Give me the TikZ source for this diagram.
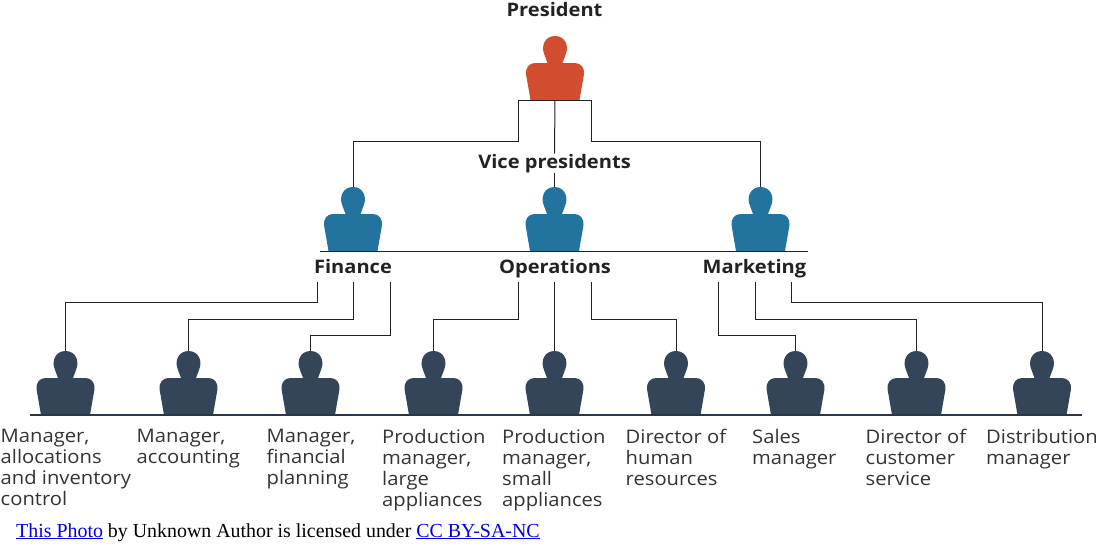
\documentclass[tikz,border=0pt]{standalone}
\usepackage{fontspec}
\setmainfont[FakeStretch=1.08]{Open Sans}
\newfontfamily\footfont{Liberation Serif}
\usepackage{tikz}
\usetikzlibrary{positioning}
\definecolor{chiefred}{RGB}{210,77,48}
\definecolor{vpblue}{RGB}{35,115,159}
\definecolor{staffnavy}{RGB}{52,69,89}
\definecolor{linkgray}{RGB}{34,34,34}
\definecolor{textgray}{RGB}{51,51,51}
\definecolor{linkblue}{RGB}{0,0,238}

\tikzset{
  person/.pic={
    \fill[pic actions] (-24.5,0) -- (-29,-26) .. controls (-29.6,-32) and (-26,-37) .. (-20,-37) -- (-7.5,-37)
      -- (-10.5,-45) .. controls (-14.5,-54) and (-10,-64) .. (0,-64)
      .. controls (10,-64) and (14.5,-54) .. (10.5,-45) -- (7.5,-37) -- (20,-37)
      .. controls (26,-37) and (29.6,-32) .. (29,-26) -- (24.5,0) -- cycle;
    \coordinate (-top) at (0,-64);
    \coordinate (-base) at (0,0);
  }
}

\begin{document}
\begin{tikzpicture}[
  x=1pt, y=-1pt,
  link/.style={draw=linkgray, line width=1pt},
  floor/.style={draw=staffnavy!80!black, line width=1.2pt},
  head/.style={anchor=base, font=\bfseries\fontsize{18.6}{21}\selectfont, text=linkgray, inner sep=0pt},
  role/.style={anchor=north west, align=left, inner sep=0pt, font=\fontsize{18.7}{21}\selectfont, text=textgray, execute at begin node=\strut},
  foot/.style={anchor=base west, inner sep=0pt, font=\footfont\fontsize{19.9}{24}\selectfont}
]
\useasboundingbox (0,0) rectangle (1100,555);

% top of the chart
\pic[fill=chiefred] (pres) at (555,100) {person};
\node[head] (preslab) at (554.5,16) {President};

\pic[fill=vpblue] (fin) at (353,251) {person};
\pic[fill=vpblue] (ops) at (554.5,251) {person};
\pic[fill=vpblue] (mkt) at (760.5,251) {person};
\node[head] (vplab) at (554.5,168) {Vice presidents};
\node[head] (finlab) at (353,273) {Finance};
\node[head] (opslab) at (555,273) {Operations};
\node[head] (mktlab) at (754.5,273) {Marketing};

% bottom row
\pic[fill=staffnavy] (alloc) at (65.5,415) {person};
\pic[fill=staffnavy] (acct) at (188.5,415) {person};
\pic[fill=staffnavy] (plan) at (310.5,415) {person};
\pic[fill=staffnavy] (large) at (433.5,415) {person};
\pic[fill=staffnavy] (small) at (554.5,415) {person};
\pic[fill=staffnavy] (human) at (676,415) {person};
\pic[fill=staffnavy] (sales) at (795.5,415) {person};
\pic[fill=staffnavy] (service) at (916.5,415) {person};
\pic[fill=staffnavy] (distr) at (1042,415) {person};

\node[role] (alloclab) at (0.5,428.6) {Manager,\\allocations\\and inventory\\control};
\node[role] (acctlab) at (136.5,428.6) {Manager,\\accounting};
\node[role] (planlab) at (266.5,428.6) {Manager,\\financial\\planning};
\node[role] (largelab) at (382,428.6) {Production\\manager,\\large\\appliances};
\node[role] (smalllab) at (502,428.6) {Production\\manager,\\small\\appliances};
\node[role] (humanlab) at (625.5,428.6) {Director of\\human\\resources};
\node[role] (saleslab) at (752,428.6) {Sales\\manager};
\node[role] (servicelab) at (865.5,428.6) {Director of\\customer\\service};
\node[role] (distrlab) at (986,428.6) {Distribution\\manager};

% bar ends
\coordinate (presL) at (518,100);
\coordinate (presR) at (591,100);
\coordinate (barL) at (320,251);
\coordinate (barR) at (808,251);
\coordinate (floorL) at (30,415);
\coordinate (floorR) at (1082,415);
\coordinate (finA) at (317,282);
\coordinate (finB) at (353,282);
\coordinate (finC) at (390,282);
\coordinate (opsA) at (518,282);
\coordinate (opsB) at (554.5,282);
\coordinate (opsC) at (591,282);
\coordinate (mktA) at (718,282);
\coordinate (mktB) at (755,282);
\coordinate (mktC) at (791,282);

\draw[link] (presL) -- (presR);
\draw[link] (barL) -- (barR);
\draw[floor] (floorL) -- (floorR);

\draw[link] (presL) -- ++(0,41) -| (fin-top);
\draw[link] (presR) -- ++(0,41) -| (mkt-top);
\draw[link] (pres-base) -- (vplab.north);
\draw[link] (vplab.south) -- (ops-top);

\draw[link] (finA) -- ++(0,20) -| (alloc-top);
\draw[link] (finB) -- ++(0,37) -| (acct-top);
\draw[link] (finC) -- ++(0,53) -| (plan-top);
\draw[link] (opsA) -- ++(0,37) -| (large-top);
\draw[link] (opsB) -- (small-top);
\draw[link] (opsC) -- ++(0,37) -| (human-top);
\draw[link] (mktA) -- ++(0,53) -| (sales-top);
\draw[link] (mktB) -- ++(0,37) -| (service-top);
\draw[link] (mktC) -- ++(0,20) -| (distr-top);

% credit line
\node[foot] (credit) at (16,537) {\textcolor{linkblue}{\underline{This Photo}} by Unknown Author is licensed under \textcolor{linkblue}{\underline{CC BY-SA-NC}}};

\end{tikzpicture}
\end{document}
